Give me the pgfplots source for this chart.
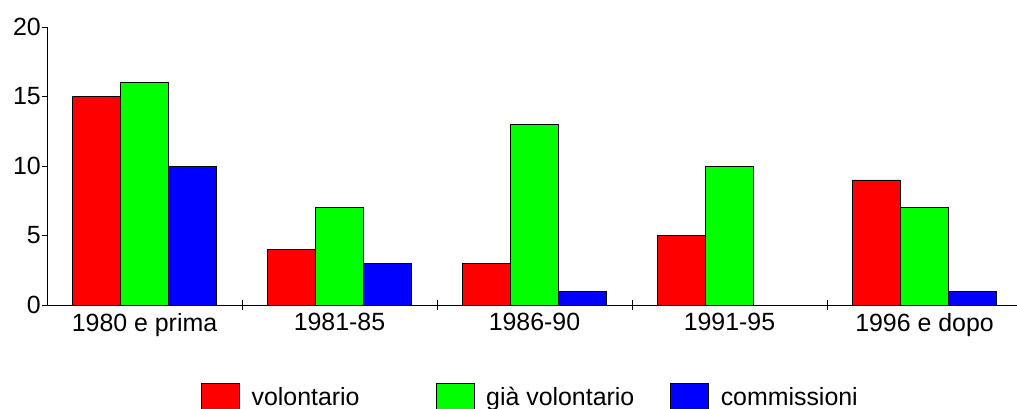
\documentclass[border=0pt]{standalone}
\usepackage{pgfplots}
\pgfplotsset{compat=1.18}
\usepackage{fontspec}
\setmainfont{Liberation Sans}
\definecolor{cred}{RGB}{255,0,0}
\definecolor{cgreen}{RGB}{0,255,0}
\definecolor{cblue}{RGB}{0,0,255}
\newcommand{\legtext}[2]{\makebox[#1][l]{\raisebox{-5bp}[0pt][0pt]{#2}}}
\begin{document}
\begin{tikzpicture}[font=\fontsize{25}{29}\selectfont]
\begin{axis}[
  at={(0,0)}, anchor=south west,
  scale only axis,
  width=975bp, height=278bp,
  xmin=-0.5, xmax=4.5,
  ymin=0, ymax=20,
  axis lines*=left,
  axis line style={black, line width=0.8bp},
  ybar=0pt, bar width=48bp,
  xtick={0,1,2,3,4},
  xticklabels={1980 e prima,1981-85,1986-90,1991-95,1996 e dopo},
  minor xtick={0.5,1.5,2.5,3.5,4.5},
  major x tick style={draw=none},
  minor x tick style={black, line width=0.8bp, yshift=5bp},
  minor tick length=10bp,
  ytick={0,5,10,15,20},
  tick align=outside,
  major tick length=5bp,
  tick style={black, line width=0.8bp},
  /pgf/number format/assume math mode=true,
  yticklabel style={inner sep=1bp},
  legend columns=3,
  legend style={draw=none, fill=none, inner sep=0pt, outer sep=0pt,
    at={(154bp,-78bp)}, anchor=north west,
    /tikz/every odd column/.append style={column sep=10bp}},
  legend image code/.code={\draw[#1] (0bp,-10bp) rectangle (38bp,18bp);},
]
\addplot[fill=cred, draw=black, line width=0.6bp] coordinates {(0,15) (1,4) (2,3) (3,5) (4,9)};
\addplot[fill=cgreen, draw=black, line width=0.6bp] coordinates {(0,16) (1,7) (2,13) (3,10) (4,7)};
\addplot[fill=cblue, draw=black, line width=0.6bp] coordinates {(0,10) (1,3) (2,1) (3,0) (4,1)};
\addlegendentry{\legtext{182bp}{volontario}}
\addlegendentry{\legtext{182bp}{già volontario}}
\addlegendentry{\legtext{160bp}{commissioni}}
\end{axis}
\pgfresetboundingbox
\useasboundingbox (-47bp,-104bp) rectangle (970bp,305bp);
\end{tikzpicture}
\end{document}
